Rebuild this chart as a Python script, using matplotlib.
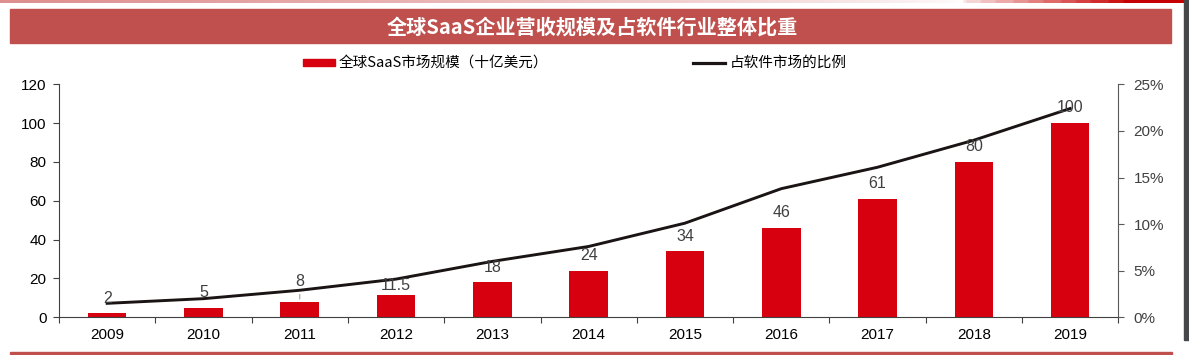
import numpy as np
import matplotlib.pyplot as plt
from matplotlib.patches import Rectangle

plt.rcParams['font.family'] = ['Liberation Sans', 'Noto Sans CJK SC', 'DejaVu Sans']

years = ['2009', '2010', '2011', '2012', '2013', '2014', '2015', '2016', '2017', '2018', '2019']
market_size = [2, 5, 8, 11.5, 18, 24, 34, 46, 61, 80, 100]   # 十亿美元
labels = ['2', '5', '8', '11.5', '18', '24', '34', '46', '61', '80', '100']
software_share = [1.5, 2.0, 2.9, 4.1, 6.0, 7.6, 10.1, 13.8, 16.1, 19.0, 22.4]  # %

title = '全球SaaS企业营收规模及占软件行业整体比重'
bar_name = '全球SaaS市场规模（十亿美元）'
line_name = '占软件市场的比例'

red = '#D7000F'
banner = '#C0504D'
W, H = 1189, 355

fig = plt.figure(figsize=(W / 100, H / 100), dpi=100)

# top decoration strip: pink fading out, then stepping up to red on the right
strip = fig.add_axes([0, 1 - 3 / H, 1, 3 / H])
strip.set_axis_off()
n = 400
xs = np.linspace(0, 1, n)
rgb = np.ones((1, n, 3))
for i, x in enumerate(xs):
    if x < 0.81:
        a = 0.8 * (1 - x / 0.81) ** 0.7
        c = np.array([0.84, 0.45, 0.45])
    else:
        a = min(1.0, 0.15 + (x - 0.81) / 0.16)
        a = np.floor(a * 12) / 12
        c = np.array([0.78, 0.0, 0.0])
    rgb[0, i] = (1 - a) * np.ones(3) + a * c
strip.imshow(rgb, aspect='auto', extent=[0, 1, 0, 1])

# title banner
fig.patches.append(Rectangle((10 / W, 1 - 43 / H), 1161 / W, 34 / H,
                             transform=fig.transFigure, color=banner, zorder=0))
fig.text(592 / W, 1 - 27 / H, title, color='white', fontsize=14.5, fontweight='bold',
         ha='center', va='center', family=['Noto Sans CJK SC'])

# bottom rule
fig.patches.append(Rectangle((10 / W, 1 - 354 / H), 1162 / W, 2 / H,
                             transform=fig.transFigure, color=banner, zorder=0))
# dark edge on the right
fig.patches.append(Rectangle((1184 / W, 1 - 340 / H), 5 / W, 340 / H,
                             transform=fig.transFigure, color='#45484b', zorder=0))

ax = fig.add_axes([59 / W, 1 - 317.3 / H, (1118.3 - 59) / W, (317.3 - 84.3) / H])
x = np.arange(len(years))
bars = ax.bar(x, market_size, width=0.4, color=red, zorder=2)
ax.set_xlim(-0.5, len(years) - 0.5)
ax.set_ylim(0, 120)
ax.set_yticks(range(0, 121, 20))

ax.set_xticks(np.arange(-0.5, len(years), 1))
ax.set_xticklabels([])
ax.set_xticks(x, minor=True)
ax.set_xticklabels(years, minor=True)
ax.tick_params(axis='x', which='major', direction='out', length=4, color='#404040')
ax.tick_params(axis='x', which='minor', length=0, pad=8, labelsize=11, labelcolor='black')
ax.tick_params(axis='y', direction='out', length=4, pad=5, labelsize=11, color='#404040')
for s in ['top', 'right']:
    ax.spines[s].set_visible(False)
for s in ['left', 'bottom']:
    ax.spines[s].set_color('#404040')

ax2 = ax.twinx()
ax2.plot(x, software_share, color='#1a1414', lw=2.1, zorder=3)
ax2.set_ylim(0, 25)
ax2.set_yticks(range(0, 26, 5))
ax2.set_yticklabels([f'{v}%' for v in range(0, 26, 5)])
ax2.tick_params(axis='y', direction='out', length=4, pad=7, labelsize=11,
                color='#595959', labelcolor='#404040')
for s in ['top', 'left', 'bottom']:
    ax2.spines[s].set_visible(False)
ax2.spines['right'].set_color('#595959')

# data labels above the bars
offsets = {2: 14.5, 3: 6.5}
for i, (v, t) in enumerate(zip(market_size, labels)):
    dy = offsets.get(i, 11)
    ax2.annotate(t, xy=(i, v * 25 / 120), xytext=(0, dy), textcoords='offset points',
                 ha='center', va='center', fontsize=11.5, color='#404040', zorder=5)
# leader line for the 2011 label
ax.annotate('', xy=(2, market_size[2]), xytext=(2, market_size[2] + 5.2),
            arrowprops=dict(arrowstyle='-', color='#a0a0a0', lw=0.8))

# legend drawn by hand to match positions
fig.patches.append(Rectangle((303 / W, 1 - 66 / H), 32 / W, 7 / H,
                             transform=fig.transFigure, color=red))
fig.text(339 / W, 1 - 62.5 / H, bar_name, fontsize=10.5, va='center', ha='left',
         family=['Noto Sans CJK SC'])
fig.lines.append(plt.Line2D([693 / W, 725 / W], [1 - 62.5 / H, 1 - 62.5 / H],
                            transform=fig.transFigure, color='#1a1414', lw=2.3))
fig.text(730 / W, 1 - 62.5 / H, line_name, fontsize=10.5, va='center', ha='left',
         family=['Noto Sans CJK SC'])

fig.savefig('out.png', dpi=100)
